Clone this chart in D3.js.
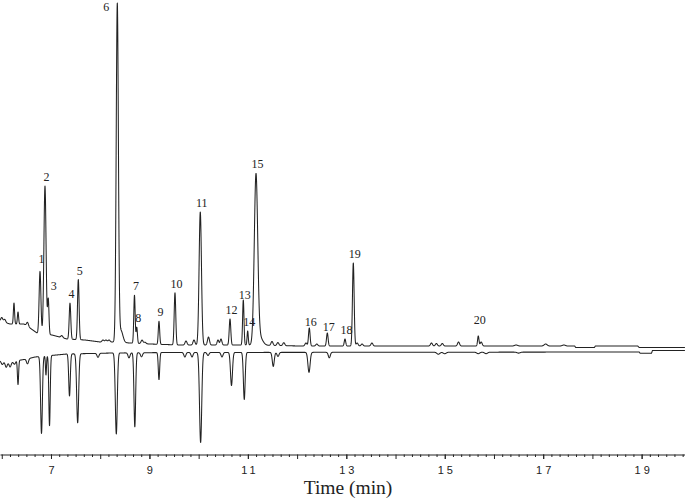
<!DOCTYPE html>
<html>
<head>
<meta charset="utf-8">
<script src="https://cdn.jsdelivr.net/npm/d3@7/dist/d3.min.js"></script>
<style>
  html, body { margin: 0; padding: 0; background: #fff; }
  svg { display: block; }
  text { -webkit-font-smoothing: antialiased; }
</style>
</head>
<body>
<svg id="chart" width="685" height="498"></svg>
<script>
// ---------------- DATA ----------------
// Time axis (min)
const timeDomain = [5.964, 19.881];
const labeledTicks = [7, 9, 11, 13, 15, 17, 19];

// Upper trace: baseline knots (time, signal a.u.)
const upperBaseT = [5.964, 6.167, 6.45, 6.573, 6.716, 7.02, 7.325, 7.69, 8.0, 8.26, 8.605, 9.011, 9.62, 11.04, 12.06, 17.64, 17.66, 18.04, 18.06, 18.92, 18.95, 19.881];
const upperBaseV = [25, 22, 22, 18, 13, 11, 7, 6, 4, 4, 3, 2, 1, 1, 0, 0, -1.5, -1.5, 0, 0, -1.5, -1.5];

// Upper trace: peaks (retention time, height, width sigma)
const upperPeakT = [6.0, 6.06, 6.248, 6.33, 6.523, 6.777, 6.878, 6.945, 7.22, 7.386, 7.555, 8.056, 8.117, 8.18, 8.347, 8.42, 8.696, 8.743, 8.85, 8.91, 9.194, 9.519, 9.743, 9.905, 10.033, 10.2, 10.393, 10.454, 10.637, 10.907, 10.996, 11.165, 11.24, 11.49, 11.61, 11.73, 12.18, 12.248, 12.40, 12.614, 12.973, 13.142, 13.22, 13.32, 13.52, 14.73, 14.83, 14.95, 15.28, 15.681, 15.74, 16.45, 17.05, 17.42];
const upperPeakH = [4, 3, 21, 12, 4, 62, 148, 35, 2, 36, 60, 2, 2, 2, 337, 12, 48, 16, 3.5, 1.5, 23, 52, 4, 5, 133, 8, 5, 6, 26, 45, 14, 168, 8, 4, 3, 3, 3, 18, 2, 13, 7, 83, 3, 2, 3, 3, 2.5, 2.5, 4, 10, 4, 1, 2, 1];
const upperPeakW = [0.02, 0.02, 0.012, 0.012, 0.02, 0.018, 0.022, 0.014, 0.02, 0.016, 0.016, 0.02, 0.02, 0.02, 0.022, 0.04, 0.014, 0.013, 0.02, 0.02, 0.014, 0.016, 0.02, 0.02, 0.024, 0.02, 0.018, 0.018, 0.016, 0.014, 0.012, 0.035, 0.06, 0.02, 0.02, 0.02, 0.02, 0.016, 0.02, 0.016, 0.015, 0.017, 0.02, 0.02, 0.02, 0.02, 0.02, 0.02, 0.02, 0.014, 0.02, 0.03, 0.03, 0.03];

// Lower (inverted) trace: baseline knots and dips (retention time, depth, sigma)
const lowerBaseT = [5.964, 6.167, 6.27, 6.51, 6.675, 7.325, 8.26, 9.4, 18.95, 18.97, 19.2, 19.22, 19.881];
const lowerBaseV = [-15, -17, -15, -13, -11, -8, -7, -6.5, -6, -7.3, -7.3, -4.5, -4.5];
const lowerPeakT = [6.01, 6.09, 6.17, 6.26, 6.33, 6.523, 6.807, 6.898, 6.97, 7.376, 7.542, 7.955, 8.327, 8.585, 8.703, 8.839, 9.194, 9.72, 9.865, 10.04, 10.19, 10.474, 10.667, 10.927, 11.516, 11.612, 12.242, 12.654, 14.87, 15.0, 15.68, 15.84, 16.5];
const lowerPeakD = [3, 5, 4, 3, 24, 5, 77, 19, 70, 42, 69, 4, 81, 5, 74, 4, 27, 4.5, 4.5, 90, 3, 4.5, 33, 47, 14, 4, 20, 5.5, 2, 1.5, 1.5, 1.5, 1];
const lowerPeakW = [0.02, 0.02, 0.02, 0.02, 0.012, 0.02, 0.018, 0.01, 0.014, 0.016, 0.02, 0.02, 0.02, 0.02, 0.017, 0.02, 0.014, 0.02, 0.02, 0.022, 0.02, 0.02, 0.02, 0.018, 0.02, 0.02, 0.022, 0.02, 0.03, 0.03, 0.03, 0.03, 0.03];

// Numbered peak labels (peak number, retention time)
const labelNames = ["1","2","3","4","5","6","7","8","9","10","11","12","13","14","15","16","17","18","19","20"];
const labelTimes = [6.777, 6.878, 6.945, 7.386, 7.555, 8.347, 8.696, 8.743, 9.194, 9.519, 10.033, 10.637, 10.907, 10.996, 11.165, 12.248, 12.614, 12.973, 13.142, 15.681];

const xTitle = "Time (min)";

// ---------------- DRAWING ----------------
const W = 685, H = 498;
const svg = d3.select("#chart");
const ink = "#222";

const x = d3.scaleLinear().domain(timeDomain).range([0, W]);
// signal scale: 0 a.u. at the upper baseline level
const y = d3.scaleLinear().domain([0, 343]).range([346, 3]);

const upperBase = d3.scaleLinear().domain(upperBaseT).range(upperBaseV).clamp(true);
const lowerBase = d3.scaleLinear().domain(lowerBaseT).range(lowerBaseV).clamp(true);

function signal(t, base, P, A, S, sign) {
  let v = base(t);
  for (let i = 0; i < P.length; i++) {
    const z = (t - P[i]) / S[i];
    if (Math.abs(z) < 8) v += sign * A[i] * Math.exp(-0.5 * z * z);
  }
  return v;
}

const times = d3.range(timeDomain[0], timeDomain[1], 0.0015);
const upper = times.map(t => [t, signal(t, upperBase, upperPeakT, upperPeakH, upperPeakW, 1)]);
const lower = times.map(t => [t, signal(t, lowerBase, lowerPeakT, lowerPeakD, lowerPeakW, -1)]);

const line = d3.line().x(d => x(d[0])).y(d => y(d[1]));

svg.append("path").datum(lower)
  .attr("d", line).attr("fill", "none")
  .attr("stroke", ink).attr("stroke-width", 1.05).attr("stroke-linejoin", "round");
svg.append("path").datum(upper)
  .attr("d", line).attr("fill", "none")
  .attr("stroke", ink).attr("stroke-width", 1.05).attr("stroke-linejoin", "round");

// Peak labels
const labelNudge = { "3": [4, -3], "1": [0, -3], "13": [0, 4], "16": [0, 3], "17": [0, 3], "20": [0, -7] };
const lg = svg.append("g")
  .attr("opacity", 0.999)
  .attr("font-family", "'Liberation Serif', 'Times New Roman', serif")
  .attr("font-size", 12).attr("fill", ink).attr("text-anchor", "middle");
labelNames.forEach((name, i) => {
  const t = labelTimes[i];
  const apex = y(signal(t, upperBase, upperPeakT, upperPeakH, upperPeakW, 1));
  let lx = x(t) + 1.5, ly = apex - 5;
  if (apex < 20) { lx = x(t) - 11; ly = apex + 8; }
  const n = labelNudge[name];
  if (n) { lx += n[0]; ly += n[1]; }
  lg.append("text").attr("x", lx).attr("y", ly).text(name);
});

// Axis
const axisY = 454.5;
const minorTicks = d3.range(0, 90).map(i => 6 + i / 6).filter(t => t >= timeDomain[0] && t <= timeDomain[1] && Math.abs(t - Math.round(t)) > 1e-6);
const intTicks = d3.range(6, 20).filter(t => t >= timeDomain[0] && t <= timeDomain[1]);

const axisMinor = svg.append("g").attr("transform", `translate(0,${axisY})`)
  .call(d3.axisBottom(x).tickValues(minorTicks).tickSize(2.5).tickFormat("").tickSizeOuter(0));
axisMinor.select(".domain").attr("stroke", ink);
axisMinor.selectAll(".tick line").attr("stroke", ink);

const axisMajor = svg.append("g").attr("transform", `translate(0,${axisY})`)
  .call(d3.axisBottom(x).tickValues(intTicks).tickSize(4.5).tickFormat("").tickSizeOuter(0));
axisMajor.select(".domain").remove();
axisMajor.selectAll(".tick line").attr("stroke", ink);

const axisLab = svg.append("g").attr("transform", `translate(0,${axisY})`)
  .call(d3.axisBottom(x).tickValues(labeledTicks).tickSize(4.5).tickFormat(d3.format("d")).tickSizeOuter(0));
axisLab.select(".domain").remove();
axisLab.selectAll(".tick line").attr("stroke", ink);
axisLab.attr("opacity", 0.999);
axisLab.selectAll(".tick text")
  .attr("font-family", "'Liberation Sans', Arial, sans-serif")
  .attr("font-size", 11).attr("fill", ink)
  .attr("y", 12).attr("dy", "0.71em")
  .attr("letter-spacing", d => d >= 10 ? 3 : 0)
  .attr("dx", d => d >= 10 ? 1.5 : 0);

svg.append("text")
  .attr("opacity", 0.999)
  .attr("x", 348).attr("y", 494)
  .attr("text-anchor", "middle")
  .attr("font-family", "'Liberation Serif', 'Times New Roman', serif")
  .attr("font-size", 19.5).attr("fill", ink)
  .text(xTitle);
</script>
</body>
</html>
